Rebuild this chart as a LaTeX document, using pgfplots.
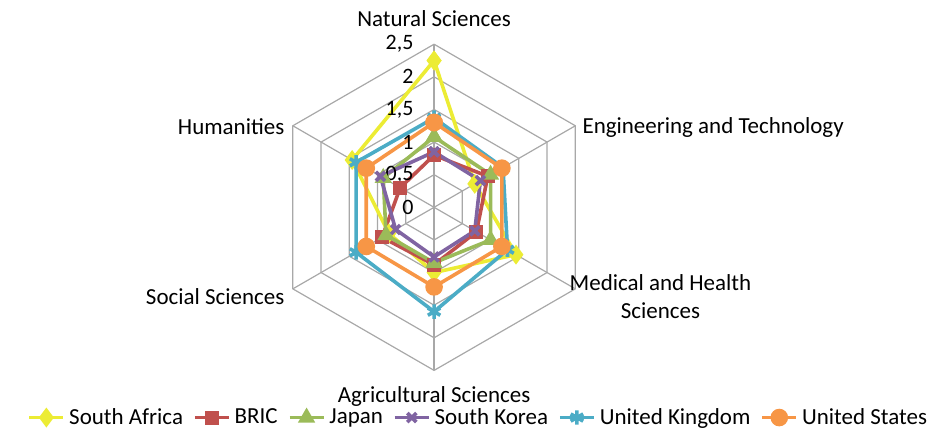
\documentclass[border=0pt]{standalone}
\usepackage{pgfplots}
\pgfplotsset{compat=1.18}
\usepackage{fontspec}
\setmainfont{Carlito}

\definecolor{gridc}{RGB}{168,168,168}
\definecolor{saY}{RGB}{236,236,52}
\definecolor{bricR}{RGB}{192,80,77}
\definecolor{japG}{RGB}{155,187,89}
\definecolor{skP}{RGB}{128,100,162}
\definecolor{ukC}{RGB}{75,172,198}
\definecolor{usO}{RGB}{247,150,70}

\begin{document}
\begin{tikzpicture}
\begin{axis}[
    x=32.65pt, y=32.65pt,
    xmin=-6.654, xmax=7.695,
    ymin=-3.407, ymax=3.178,
    hide axis,
    clip=false,
    legend columns=6,
    legend cell align=left,
    legend style={at={(0.512,0.028)}, anchor=center, draw=none, fill=none,
        font=\fontsize{11.5}{13}\selectfont,
        /tikz/every even column/.append style={column sep=3pt}},
    every axis plot/.append style={line width=1.8pt, data cs=polar},
]
\draw[draw=none] (rel axis cs:0,0) rectangle (rel axis cs:1,1);

% hexagonal grid
\pgfplotsinvokeforeach{0.5,1,1.5,2,2.5}{
  \addplot[gridc, line width=0.6pt, forget plot] coordinates
    {(90,#1)(30,#1)(-30,#1)(-90,#1)(-150,#1)(150,#1)(90,#1)};
}
\pgfplotsinvokeforeach{90,30,-30,-90,-150,150}{
  \addplot[gridc, line width=0.6pt, forget plot] coordinates {(#1,0)(#1,2.5)};
}

% order: Natural, Engineering, Medical, Agricultural, Social, Humanities
\addplot[saY, mark=diamond*, mark size=3.5pt, mark options={solid}] coordinates
  {(90,2.25)(30,0.72)(-30,1.45)(-90,1.0)(-150,0.8)(150,1.45)(90,2.25)};
\addlegendentry{South Africa}
\addplot[bricR, mark=square*, mark size=2.6pt] coordinates
  {(90,0.8)(30,0.95)(-30,0.75)(-90,0.88)(-150,0.92)(150,0.6)(90,0.8)};
\addlegendentry{BRIC}
\addplot[japG, mark=triangle*, mark size=3.2pt] coordinates
  {(90,1.08)(30,1.0)(-30,1.0)(-90,0.85)(-150,0.85)(150,0.9)(90,1.08)};
\addlegendentry{Japan}
\addplot[skP, mark=x, mark size=3.2pt] coordinates
  {(90,0.85)(30,0.82)(-30,0.72)(-90,0.76)(-150,0.68)(150,0.95)(90,0.85)};
\addlegendentry{South Korea}
\addplot[ukC, mark=asterisk, mark size=3.6pt] coordinates
  {(90,1.37)(30,1.22)(-30,1.3)(-90,1.6)(-150,1.38)(150,1.38)(90,1.37)};
\addlegendentry{United Kingdom}
\addplot[usO, mark=*, mark size=3.5pt] coordinates
  {(90,1.3)(30,1.2)(-30,1.2)(-90,1.22)(-150,1.2)(150,1.2)(90,1.3)};
\addlegendentry{United States}

% radial tick labels
\foreach \v/\t in {0/0,0.5/{0,5},1/1,1.5/{1,5},2/2,2.5/{2,5}}{
  \edef\temp{\noexpand\node[anchor=east, inner sep=0pt, font=\noexpand\fontsize{11}{13}\noexpand\selectfont]
    at (axis cs:-0.31,\v) {\t};}
  \temp
}

% category labels
\tikzset{cat/.style={font=\fontsize{11.5}{14}\selectfont, inner sep=0pt}}
\node[cat, anchor=center] at (axis cs:0,2.90) {Natural Sciences};
\node[cat, anchor=west] at (axis cs:2.27,1.23) {Engineering and Technology};
\node[cat, anchor=center, align=center] at (axis cs:3.47,-1.37) {Medical and Health\\Sciences};
\node[cat, anchor=center] at (axis cs:0,-2.90) {Agricultural Sciences};
\node[cat, anchor=east] at (axis cs:-2.29,-1.37) {Social Sciences};
\node[cat, anchor=east] at (axis cs:-2.29,1.23) {Humanities};
\end{axis}
\end{tikzpicture}
\end{document}
